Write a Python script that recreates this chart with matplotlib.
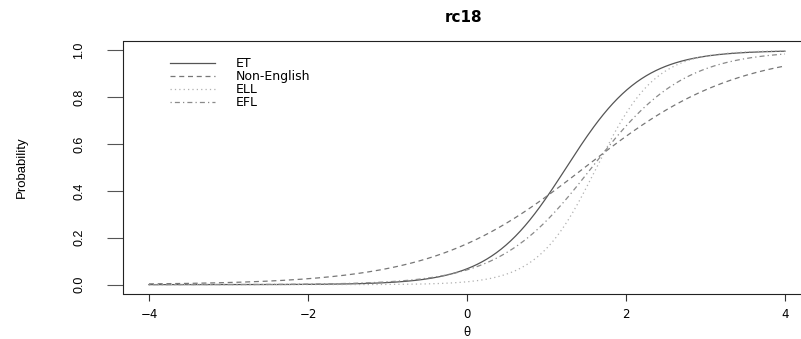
import numpy as np
import matplotlib
matplotlib.use("Agg")
import matplotlib.pyplot as plt
from matplotlib import font_manager

# ---- data (2PL item parameters) ----
groups = ["ET", "Non-English", "ELL", "EFL"]
discrimination = [2.1, 1.05, 2.7, 1.72]
difficulty = [1.25, 1.48, 1.63, 1.57]
theta_min, theta_max = -4, 4
x_ticks = [-4, -2, 0, 2, 4]
y_ticks = [0.0, 0.2, 0.4, 0.6, 0.8, 1.0]
title = "rc18"

# ---- styles ----
colors = ["#555555", "#777777", "#b0b0b0", "#8a8a8a"]
styles = ["-", (0, (4, 3)), (0, (1, 2.5)), (0, (1, 2.5, 4, 2.5))]

avail = {f.name for f in font_manager.fontManager.ttflist}
narrow = "Liberation Sans Narrow" if "Liberation Sans Narrow" in avail else "Liberation Sans"

W, H = 801, 339
fig = plt.figure(figsize=(W / 100, H / 100), dpi=100)
left, right, top, bottom = 123.5, 810.4, 41.1, 294.0
ax = fig.add_axes([left / W, (H - bottom) / H, (right - left) / W, (bottom - top) / H])

theta = np.linspace(theta_min, theta_max, 400)
for name, a, b, c, ls in zip(groups, discrimination, difficulty, colors, styles):
    p = 1.0 / (1.0 + np.exp(-a * (theta - b)))
    ax.plot(theta, p, color=c, linestyle=ls, linewidth=0.9, label=name)

ax.set_xlim(theta_min - 0.32, theta_max + 0.32)
ax.set_ylim(-0.04, 1.04)
ax.set_xticks(x_ticks)
ax.set_xticklabels([f"{v:d}".replace("-", "\u2212") for v in x_ticks],
                   family="DejaVu Sans", fontsize=8.5)
ax.set_yticks(y_ticks)
ax.set_yticklabels([f"{v:.1f}" for v in y_ticks], family=narrow, fontsize=9,
                   rotation=90, va="center", ha="right")
ax.tick_params(axis="x", length=5, width=0.8, color="#333333", pad=5)
ax.tick_params(axis="y", length=11.5, width=0.8, color="#555555", pad=16)
for s in ax.spines.values():
    s.set_linewidth(0.8)
    s.set_color("#222222")

leg = ax.legend(loc="upper left", bbox_to_anchor=(47 / (right - left), 1 - 16 / (bottom - top)),
                frameon=False, prop={"family": "DejaVu Sans", "size": 9},
                handlelength=3.6, handletextpad=1.6, labelspacing=0.0,
                borderpad=0, borderaxespad=0)

fig.text(464 / W, 1 - 17 / H, title, ha="center", va="center",
         family="DejaVu Sans", fontweight="bold", fontsize=11)
fig.text(22 / W, 1 - 167 / H, "Probability", ha="center", va="center",
         rotation=90, family=narrow, fontsize=9.5)
fig.text(467 / W, 1 - 333 / H, "\u03b8", ha="center", va="center",
         family="DejaVu Sans", fontsize=8.5)

fig.savefig("out.png", dpi=100)
